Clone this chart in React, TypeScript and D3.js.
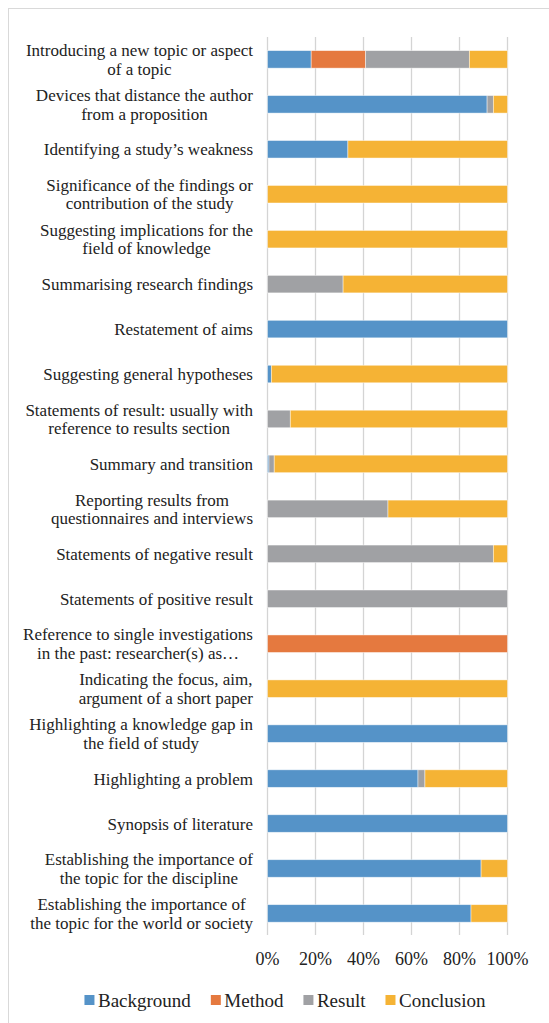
import React, { useEffect, useRef } from "react";
import * as d3 from "d3";

const categories: string[] = [
  "Introducing a new topic or aspect\nof a topic",
  "Devices that distance the author\nfrom a proposition",
  "Identifying a study’s weakness",
  "Significance of the findings or\ncontribution of the study",
  "Suggesting implications for the\nfield of knowledge",
  "Summarising research findings",
  "Restatement of aims",
  "Suggesting general hypotheses",
  "Statements of result: usually with\nreference to results section",
  "Summary and transition",
  "Reporting results from\nquestionnaires and interviews",
  "Statements of negative result",
  "Statements of positive result",
  "Reference to single investigations\nin the past: researcher(s) as…",
  "Indicating the focus, aim,\nargument of a short paper",
  "Highlighting a knowledge gap in\nthe field of study",
  "Highlighting a problem",
  "Synopsis of literature",
  "Establishing the importance of\nthe topic for the discipline",
  "Establishing the importance of\nthe topic for the world or society",
];

const background = [18.2, 91.5, 33.5, 0, 0, 0, 100, 1.6, 0, 0.6, 0, 0, 0, 0, 0, 100, 62.7, 100, 89.0, 84.8];
const method = [22.7, 0, 0, 0, 0, 0, 0, 0, 0, 0, 0, 0, 0, 100, 0, 0, 0, 0, 0, 0];
const result = [43.2, 2.6, 0, 0, 0, 31.5, 0, 0, 9.5, 2.2, 50.2, 94.1, 100, 0, 0, 0, 2.9, 0, 0, 0];
const conclusion = [15.9, 5.9, 66.5, 100, 100, 68.5, 0, 98.4, 90.5, 97.2, 49.8, 5.9, 0, 0, 100, 0, 34.4, 0, 11.0, 15.2];

const seriesNames = ["Background", "Method", "Result", "Conclusion"];
const seriesColors = ["#5593C8", "#E5793F", "#A0A1A4", "#F5B335"];
const ticks = [0, 0.2, 0.4, 0.6, 0.8, 1];

const FONT = "Liberation Serif";

function measure(text: string, size: number): number {
  const c = document.createElement("canvas");
  const ctx = c.getContext("2d")!;
  ctx.font = `${size}px "${FONT}"`;
  return ctx.measureText(text).width;
}

export default function App() {
  const ref = useRef<SVGSVGElement>(null);

  useEffect(() => {
    const svg = d3.select(ref.current!);
    svg.selectAll("*").remove();

    const W = 549, H = 1023;
    svg.append("rect").attr("x", 8.5).attr("y", 8.5).attr("width", W + 20).attr("height", H + 20)
      .attr("fill", "#fff").attr("stroke", "#d9d9d9").attr("stroke-width", 1);

    const x = d3.scaleLinear().domain([0, 1]).range([267.5, 507.5]);
    const y = d3.scaleBand<number>().domain(d3.range(categories.length))
      .range([36.9, 935.9]).paddingInner(0.61).paddingOuter(0.305);

    svg.append("g").selectAll("line").data(ticks).join("line")
      .attr("x1", (d) => x(d)).attr("x2", (d) => x(d))
      .attr("y1", 36.9).attr("y2", 935)
      .attr("stroke", "#d4d4d4").attr("stroke-width", 1.3);

    const rows = categories.map((_, i) => ({
      Background: background[i] / 100,
      Method: method[i] / 100,
      Result: result[i] / 100,
      Conclusion: conclusion[i] / 100,
      idx: i,
    }));
    const stacked = d3.stack<any>().keys(seriesNames)(rows);

    stacked.forEach((layer, si) => {
      svg.append("g").selectAll("rect").data(layer.filter((d) => d[1] - d[0] > 0)).join("rect")
        .attr("x", (d) => x(d[0]))
        .attr("width", (d) => x(d[1]) - x(d[0]))
        .attr("y", (d) => y(d.data.idx)!)
        .attr("height", y.bandwidth())
        .attr("fill", seriesColors[si])
        .attr("stroke", "#ffffff").attr("stroke-opacity", 0.6).attr("stroke-width", 0.75);
    });

    const labelG = svg.append("g").style("font-family", `"${FONT}", serif`).style("font-size", "17px").attr("fill", "#222");
    categories.forEach((cat, i) => {
      const lines = cat.split("\n");
      const maxW = d3.max(lines, (l) => measure(l, 17))!;
      const cx = 253 - maxW / 2;
      const cy = y(i)! + y.bandwidth() / 2;
      lines.forEach((l, li) => {
        labelG.append("text")
          .attr("x", cx)
          .attr("y", cy + (li - (lines.length - 1) / 2) * 18.5 + 6)
          .attr("text-anchor", "middle")
          .text(l);
      });
    });

    svg.append("g").selectAll("text").data(ticks).join("text")
      .attr("x", (d) => x(d)).attr("y", 965)
      .attr("text-anchor", "middle")
      .style("font-family", `"${FONT}", serif`).style("font-size", "18px").attr("fill", "#222")
      .text((d) => d3.format(".0%")(d));

    const lSize = 19, sq = 10, gapSq = 3.5, gapItem = 20;
    const widths = seriesNames.map((n) => measure(n, lSize));
    const total = d3.sum(widths) + seriesNames.length * (sq + gapSq) + gapItem * (seriesNames.length - 1);
    let lx = 285 - total / 2;
    const lg = svg.append("g");
    seriesNames.forEach((n, i) => {
      lg.append("rect").attr("x", lx).attr("y", 995).attr("width", sq).attr("height", sq).attr("fill", seriesColors[i]);
      lg.append("text").attr("x", lx + sq + gapSq).attr("y", 1007)
        .style("font-family", `"${FONT}", serif`).style("font-size", `${lSize}px`).attr("fill", "#222").text(n);
      lx += sq + gapSq + widths[i] + gapItem;
    });
  }, []);

  return (
    <svg
      ref={ref}
      width={549}
      height={1023}
      style={{ position: "absolute", left: 0, top: 0, display: "block" }}
    />
  );
}
